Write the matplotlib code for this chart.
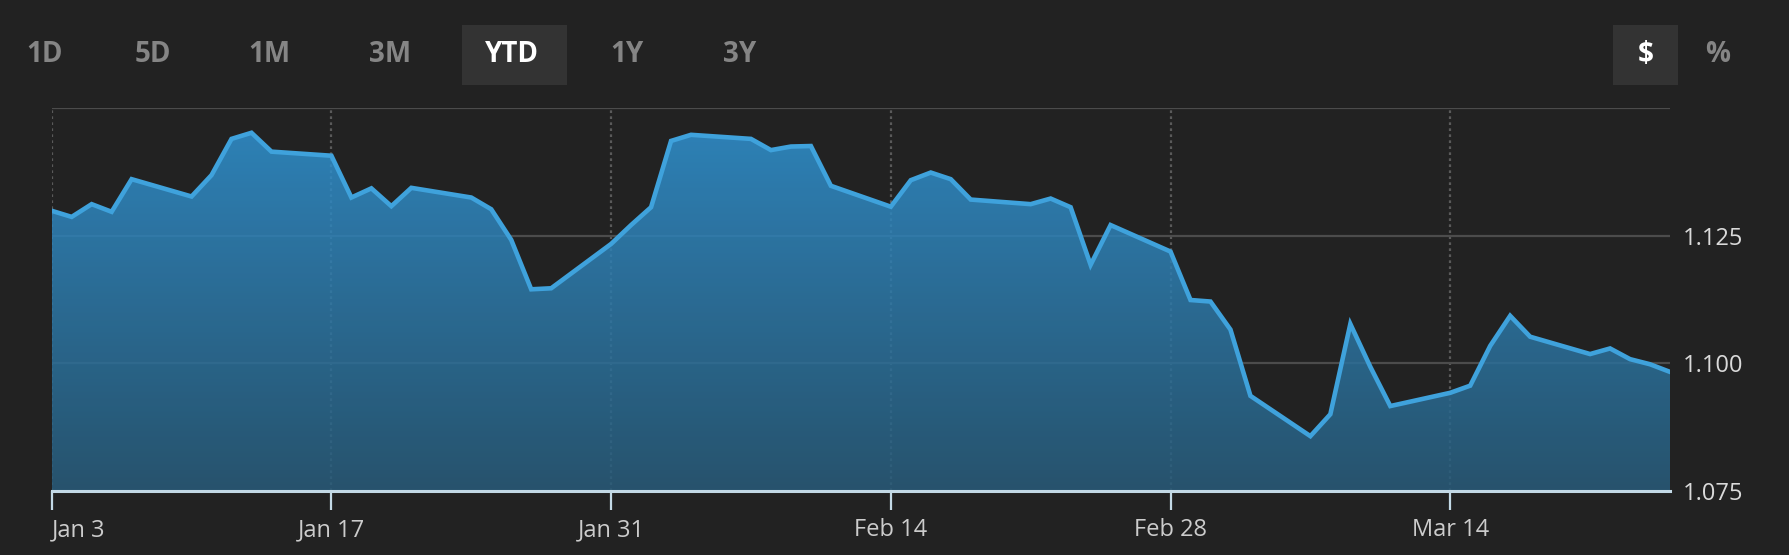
import numpy as np
import matplotlib
matplotlib.use("Agg")
import matplotlib.pyplot as plt
import matplotlib.dates as mdates
from matplotlib.patches import Rectangle
from matplotlib.colors import LinearSegmentedColormap

plt.rcParams['font.family'] = ['Open Sans', 'DejaVu Sans']

# EUR/USD daily closes, YTD
dates = ["2022-01-03", "2022-01-04", "2022-01-05", "2022-01-06", "2022-01-07",
         "2022-01-10", "2022-01-11", "2022-01-12", "2022-01-13", "2022-01-14",
         "2022-01-17", "2022-01-18", "2022-01-19", "2022-01-20", "2022-01-21",
         "2022-01-24", "2022-01-25", "2022-01-26", "2022-01-27", "2022-01-28",
         "2022-01-31", "2022-02-01", "2022-02-02", "2022-02-03", "2022-02-04",
         "2022-02-07", "2022-02-08", "2022-02-09", "2022-02-10", "2022-02-11",
         "2022-02-14", "2022-02-15", "2022-02-16", "2022-02-17", "2022-02-18",
         "2022-02-21", "2022-02-22", "2022-02-23", "2022-02-24", "2022-02-25",
         "2022-02-28", "2022-03-01", "2022-03-02", "2022-03-03", "2022-03-04",
         "2022-03-07", "2022-03-08", "2022-03-09", "2022-03-10", "2022-03-11",
         "2022-03-14", "2022-03-15", "2022-03-16", "2022-03-17", "2022-03-18",
         "2022-03-21", "2022-03-22", "2022-03-23", "2022-03-24", "2022-03-25"]
values = [1.1299, 1.1287, 1.1312, 1.1297, 1.1361,
          1.1327, 1.1369, 1.1440, 1.1452, 1.1415,
          1.1407, 1.1325, 1.1343, 1.1308, 1.1344,
          1.1325, 1.1302, 1.1242, 1.1145, 1.1147,
          1.1234, 1.1271, 1.1306, 1.1436, 1.1448,
          1.1440, 1.1418, 1.1425, 1.1426, 1.1348,
          1.1307, 1.1359, 1.1374, 1.1361, 1.1321,
          1.1312, 1.1323, 1.1306, 1.1193, 1.1271,
          1.1219, 1.1124, 1.1121, 1.1066, 1.0936,
          1.0857, 1.0900, 1.1077, 1.0993, 1.0916,
          1.0942, 1.0956, 1.1034, 1.1093, 1.1052,
          1.1018, 1.1029, 1.1008, 1.0998, 1.0983]

tick_dates = ["2022-01-03", "2022-01-17", "2022-01-31", "2022-02-14", "2022-02-28", "2022-03-14"]
tick_labels = ["Jan 3", "Jan 17", "Jan 31", "Feb 14", "Feb 28", "Mar 14"]
y_ticks = [1.075, 1.100, 1.125, 1.150]
y_labels = ["1.075", "1.100", "1.125", ""]

ranges = ["1D", "5D", "1M", "3M", "YTD", "1Y", "3Y"]
active_range = "YTD"
modes = ["$", "%"]
active_mode = "$"

BG = "#222222"
W, H = 1789, 555

fig = plt.figure(figsize=(W / 100, H / 100), dpi=100, facecolor=BG)
ax = fig.add_axes([51.7 / W, 1 - 490.7 / H, (1670 - 51.7) / W, (490.7 - 108.3) / H])
ax.set_facecolor("none")

x = mdates.date2num(np.array(dates, dtype="datetime64[D]"))
ymin, ymax = 1.075, 1.150

# gradient area under the line (slightly see-through so the grid shows faintly)
fill = ax.fill_between(x, values, ymin, facecolor="none", edgecolor="none")
cmap = LinearSegmentedColormap.from_list("area", ["#285c7b", "#3196d7"])
grad = np.linspace(1, 0, 256).reshape(-1, 1)
im = ax.imshow(grad, cmap=cmap, aspect="auto", extent=[x[0], x[-1], ymin, ymax],
               origin="upper", zorder=1, alpha=0.85)
im.set_clip_path(fill.get_paths()[0], transform=ax.transData)

ax.plot(x, values, color="#3fa2dc", lw=3.3, zorder=3, solid_joinstyle="miter")

ax.set_xlim(x[0], x[-1])
ax.set_ylim(ymin, ymax)

# grid under the area
ax.set_axisbelow(True)
ax.yaxis.grid(True, color="#4c4c4c", lw=1.6, zorder=0)
ax.xaxis.grid(True, color="#5a5a5a", lw=1.6, ls=(0, (1.2, 1.5)), zorder=0)
for s in ["left", "right", "top"]:
    ax.spines[s].set_visible(False)
ax.spines["bottom"].set_color("#c3d9e6")
ax.spines["bottom"].set_linewidth(2.2)
ax.spines["bottom"].set_zorder(4)

tx = mdates.date2num(np.array(tick_dates, dtype="datetime64[D]"))
ax.set_xticks(tx)
ax.set_xticklabels(tick_labels)
ax.tick_params(axis="x", length=14, width=1.6, color="#c3d9e6", labelcolor="#cccccc",
               labelsize=17, pad=6)
ax.get_xticklabels()[0].set_ha("left")

ax.yaxis.tick_right()
ax.set_yticks(y_ticks)
ax.set_yticklabels(y_labels)
ax.tick_params(axis="y", length=0, labelcolor="#dadada", labelsize=17, pad=9)

# range buttons
def btn_box(x0, x1, y0, y1):
    fig.patches.append(Rectangle((x0 / W, 1 - y1 / H), (x1 - x0) / W, (y1 - y0) / H,
                                 transform=fig.transFigure, facecolor="#333333",
                                 edgecolor="none", zorder=0))

range_x = [45, 153, 269, 390, 512, 627, 740]
for lab, cx in zip(ranges, range_x):
    on = lab == active_range
    if on:
        btn_box(462, 567, 25, 85)
    fig.text(cx / W, 1 - 55 / H, lab, ha="center", va="center", fontsize=20,
             fontweight="bold", color="white" if on else "#858585")

mode_x = [1646, 1718]
for lab, cx in zip(modes, mode_x):
    on = lab == active_mode
    if on:
        btn_box(1613, 1678, 25, 85)
    fig.text(cx / W, 1 - 55 / H, lab, ha="center", va="center", fontsize=20,
             fontweight="bold", color="white" if on else "#858585")

fig.savefig("out.png", dpi=100, facecolor=BG)
